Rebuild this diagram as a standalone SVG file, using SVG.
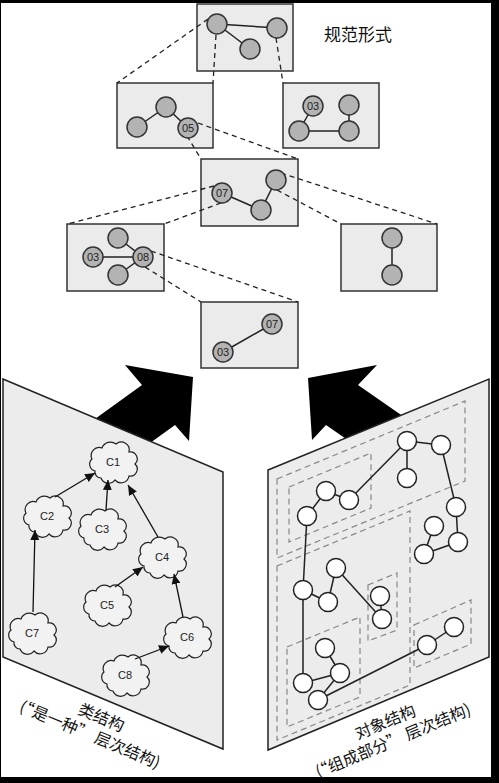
<svg xmlns="http://www.w3.org/2000/svg" width="499" height="783" viewBox="0 0 499 783">
<style>
.box{fill:#ebebeb;stroke:#333;stroke-width:1.5}
.gc{fill:#b3b3b3;stroke:#333;stroke-width:1.5}
.num{font-family:"Liberation Sans",Arial,sans-serif;font-size:11px;fill:#222;text-anchor:middle}
.dash{stroke:#222;stroke-width:1.3;stroke-dasharray:5,4;fill:none}
.edge{stroke:#222;stroke-width:1.5;fill:none}
.panel{fill:#ececec;stroke:#222;stroke-width:1.5}
.cloud{fill:#f2f2f2;stroke:#222;stroke-width:1.2}
.cl{font-family:"Liberation Sans",Arial,sans-serif;font-size:11px;fill:#222;text-anchor:middle}
.arr{stroke:#111;stroke-width:1.3;fill:none;marker-end:url(#ah)}
.wc{fill:#fff;stroke:#222;stroke-width:1.5}
.grp{fill:none;stroke:#888;stroke-width:1.2;stroke-dasharray:6,4}
.lbl{font-family:"Noto Sans CJK SC","Noto Sans",sans-serif;font-size:16px;fill:#111;text-anchor:middle}
.big{fill:#000}
</style>
<defs>
<marker id="ah" markerUnits="userSpaceOnUse" markerWidth="11" markerHeight="9" refX="10" refY="4.5" orient="auto">
<path d="M0,0 L10,4.5 L0,9 Z" fill="#111"/>
</marker>
<path id="cloudshape" d="M-18,9 A7,7 0 0 1 -21,-3 A8,8 0 0 1 -11,-14 A9,9 0 0 1 3,-18 A8,8 0 0 1 16,-10 A7,7 0 0 1 22,2 A7,7 0 0 1 16,14 A8,8 0 0 1 2,18 A8,8 0 0 1 -12,16 A6,6 0 0 1 -18,9 Z"/>
</defs>
<rect x="0" y="0" width="499" height="783" fill="#000"/>
<rect x="1" y="3" width="490" height="774" fill="#fff"/>

<!-- top hierarchy boxes -->
<g id="box-top"><rect class="box" x="197" y="4" width="96" height="67"/></g>
<g id="box-l2a"><rect class="box" x="117" y="83" width="96" height="65"/></g>
<g id="box-l2b"><rect class="box" x="283" y="83" width="96" height="65"/></g>
<g id="box-l3"><rect class="box" x="201" y="159" width="97" height="67"/></g>
<g id="box-l4a"><rect class="box" x="67" y="224" width="97" height="67"/></g>
<g id="box-l4b"><rect class="box" x="341" y="224" width="96" height="67"/></g>
<g id="box-l5"><rect class="box" x="201" y="302" width="97" height="66"/></g>

<g id="connectors-top">
<line class="dash" x1="208" y1="19" x2="117" y2="83"/>
<line class="dash" x1="216" y1="35" x2="213" y2="83"/>
<line class="dash" x1="276" y1="38" x2="283" y2="83"/>
<line class="dash" x1="198" y1="123" x2="298" y2="159"/>
<line class="dash" x1="187" y1="136" x2="201" y2="159"/>
<line class="dash" x1="214" y1="186" x2="67" y2="224"/>
<line class="dash" x1="221" y1="203" x2="164" y2="224"/>
<line class="dash" x1="281" y1="173" x2="437" y2="224"/>
<line class="dash" x1="277" y1="190" x2="341" y2="224"/>
<line class="dash" x1="151" y1="251" x2="298" y2="302"/>
<line class="dash" x1="145" y1="267" x2="201" y2="302"/>
<line class="edge" x1="217" y1="24" x2="277" y2="28"/>
<line class="edge" x1="217" y1="24" x2="250" y2="49"/>
<line class="edge" x1="166" y1="107" x2="137" y2="127"/>
<line class="edge" x1="166" y1="107" x2="188" y2="128"/>
<line class="edge" x1="313" y1="106" x2="299" y2="131"/>
<line class="edge" x1="299" y1="131" x2="349" y2="131"/>
<line class="edge" x1="349" y1="105" x2="349" y2="131"/>
<line class="edge" x1="222" y1="193" x2="261" y2="210"/>
<line class="edge" x1="261" y1="210" x2="276" y2="180"/>
<line class="edge" x1="118" y1="238" x2="143" y2="257"/>
<line class="edge" x1="93" y1="257" x2="143" y2="257"/>
<line class="edge" x1="118" y1="275" x2="143" y2="257"/>
<line class="edge" x1="392" y1="238" x2="392" y2="275"/>
<line class="edge" x1="272" y1="324" x2="223" y2="352"/>
</g>

<g id="nodes-top">
<circle class="gc" cx="217" cy="24" r="10"/>
<circle class="gc" cx="277" cy="28" r="10"/>
<circle class="gc" cx="250" cy="49" r="10"/>
<circle class="gc" cx="166" cy="107" r="10"/>
<circle class="gc" cx="137" cy="127" r="10"/>
<circle class="gc" cx="188" cy="128" r="10"/><text class="num" x="188" y="132">05</text>
<circle class="gc" cx="313" cy="106" r="10"/><text class="num" x="313" y="110">03</text>
<circle class="gc" cx="349" cy="105" r="10"/>
<circle class="gc" cx="299" cy="131" r="10"/>
<circle class="gc" cx="349" cy="131" r="10"/>
<circle class="gc" cx="222" cy="193" r="10"/><text class="num" x="222" y="197">07</text>
<circle class="gc" cx="261" cy="210" r="10"/>
<circle class="gc" cx="276" cy="180" r="10"/>
<circle class="gc" cx="118" cy="238" r="10"/>
<circle class="gc" cx="93" cy="257" r="10"/><text class="num" x="93" y="261">03</text>
<circle class="gc" cx="143" cy="257" r="10"/><text class="num" x="143" y="261">08</text>
<circle class="gc" cx="118" cy="275" r="10"/>
<circle class="gc" cx="392" cy="238" r="10"/>
<circle class="gc" cx="392" cy="275" r="10"/>
<circle class="gc" cx="272" cy="324" r="10"/><text class="num" x="272" y="328">07</text>
<circle class="gc" cx="223" cy="352" r="10"/><text class="num" x="223" y="356">03</text>
</g>

<g id="title"><text x="358" y="41" font-family="'Noto Sans CJK SC','Noto Sans',sans-serif" font-size="17" fill="#111" text-anchor="middle">规范形式</text></g>

<!-- big arrows -->
<g id="big-arrow-left"><polygon class="big" points="193,377 125,365 142,385 70,437 103,477 175,425 189,441"/></g>
<g id="big-arrow-right"><polygon class="big" points="308,378 377,365 358,385 430,435 398,475 326,425 312,440"/></g>

<!-- left panel: class structure -->
<g id="panel-left">
<polygon class="panel" points="3,379 223,472 223,749 3,657"/>
<g id="c1"><use href="#cloudshape" class="cloud" x="113" y="462"/><text class="cl" x="113" y="466">C1</text></g>
<g id="c2"><use href="#cloudshape" class="cloud" x="47" y="516"/><text class="cl" x="47" y="520">C2</text></g>
<g id="c3"><use href="#cloudshape" class="cloud" x="102" y="529"/><text class="cl" x="102" y="533">C3</text></g>
<g id="c4"><use href="#cloudshape" class="cloud" x="162" y="557"/><text class="cl" x="162" y="561">C4</text></g>
<g id="c5"><use href="#cloudshape" class="cloud" x="107" y="605"/><text class="cl" x="107" y="609">C5</text></g>
<g id="c6"><use href="#cloudshape" class="cloud" x="187" y="637"/><text class="cl" x="187" y="641">C6</text></g>
<g id="c7"><use href="#cloudshape" class="cloud" x="32" y="633"/><text class="cl" x="32" y="637">C7</text></g>
<g id="c8"><use href="#cloudshape" class="cloud" x="125" y="675"/><text class="cl" x="125" y="679">C8</text></g>
<g id="class-connectors">
<line class="arr" x1="55" y1="497" x2="95" y2="473"/>
<line class="arr" x1="106" y1="510" x2="108" y2="480"/>
<line class="arr" x1="158" y1="537" x2="128" y2="485"/>
<line class="arr" x1="33" y1="612" x2="35" y2="530"/>
<line class="arr" x1="115" y1="587" x2="143" y2="567"/>
<line class="arr" x1="183" y1="617" x2="174" y2="574"/>
<line class="arr" x1="135" y1="659" x2="169" y2="646"/>
</g>
</g>
<g id="label-left" transform="translate(94,725) rotate(22.7)">
<text class="lbl" x="4" y="-4">类结构</text>
<text class="lbl" x="0" y="16">(“是一种” 层次结构)</text>
</g>

<!-- right panel: object structure -->
<g id="panel-right">
<polygon class="panel" points="268,470 489,379 489,657 268,750"/>
<g id="groups">
<polygon class="grp" points="277,479 465,401 465,481 277,558"/>
<polygon class="grp" points="289,487 371,453 371,508 289,542"/>
<polygon class="grp" points="277,566 410,511 410,685 277,740"/>
<polygon class="grp" points="287,647 360,617 360,697 287,727"/>
<polygon class="grp" points="368,585 397,573 397,630 368,641"/>
<polygon class="grp" points="414,625 471,600 471,644 414,668"/>
</g>
<g id="object-connectors">
<line class="edge" x1="349" y1="500" x2="407" y2="441"/>
<line class="edge" x1="407" y1="441" x2="441" y2="445"/>
<line class="edge" x1="407" y1="441" x2="407" y2="478"/>
<line class="edge" x1="441" y1="445" x2="456" y2="507"/>
<line class="edge" x1="456" y1="507" x2="458" y2="542"/>
<line class="edge" x1="458" y1="542" x2="424" y2="554"/>
<line class="edge" x1="424" y1="554" x2="434" y2="526"/>
<line class="edge" x1="326" y1="491" x2="349" y2="500"/>
<line class="edge" x1="326" y1="491" x2="307" y2="516"/>
<line class="edge" x1="307" y1="516" x2="303" y2="590"/>
<line class="edge" x1="303" y1="590" x2="328" y2="602"/>
<line class="edge" x1="328" y1="602" x2="336" y2="568"/>
<line class="edge" x1="336" y1="568" x2="382" y2="619"/>
<line class="edge" x1="380" y1="596" x2="382" y2="619"/>
<line class="edge" x1="303" y1="590" x2="303" y2="683"/>
<line class="edge" x1="303" y1="683" x2="340" y2="673"/>
<line class="edge" x1="325" y1="648" x2="340" y2="673"/>
<line class="edge" x1="340" y1="673" x2="318" y2="700"/>
<line class="edge" x1="318" y1="700" x2="427" y2="645"/>
<line class="edge" x1="427" y1="645" x2="454" y2="627"/>
</g>
<g id="objects">
<circle class="wc" cx="407" cy="441" r="9.5"/>
<circle class="wc" cx="441" cy="445" r="9.5"/>
<circle class="wc" cx="407" cy="478" r="9.5"/>
<circle class="wc" cx="456" cy="507" r="9.5"/>
<circle class="wc" cx="458" cy="542" r="9.5"/>
<circle class="wc" cx="424" cy="554" r="9.5"/>
<circle class="wc" cx="434" cy="526" r="9.5"/>
<circle class="wc" cx="326" cy="491" r="9.5"/>
<circle class="wc" cx="349" cy="500" r="9.5"/>
<circle class="wc" cx="307" cy="516" r="9.5"/>
<circle class="wc" cx="336" cy="568" r="9.5"/>
<circle class="wc" cx="303" cy="590" r="9.5"/>
<circle class="wc" cx="328" cy="602" r="9.5"/>
<circle class="wc" cx="380" cy="596" r="9.5"/>
<circle class="wc" cx="382" cy="619" r="9.5"/>
<circle class="wc" cx="325" cy="648" r="9.5"/>
<circle class="wc" cx="340" cy="673" r="9.5"/>
<circle class="wc" cx="303" cy="683" r="9.5"/>
<circle class="wc" cx="318" cy="700" r="9.5"/>
<circle class="wc" cx="427" cy="645" r="9.5"/>
<circle class="wc" cx="454" cy="627" r="9.5"/>
</g>
</g>
<g id="label-right" transform="translate(389,731) rotate(-22.7)">
<text class="lbl" x="0" y="-4">对象结构</text>
<text class="lbl" x="0" y="16">(“组成部分” 层次结构)</text>
</g>
</svg>
